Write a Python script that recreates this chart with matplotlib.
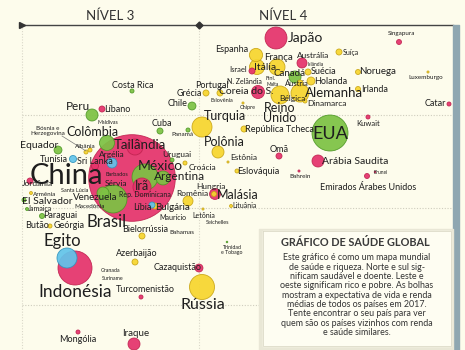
import numpy as np
import matplotlib.pyplot as plt

plt.rcParams['font.family'] = ['Lato', 'DejaVu Sans']

# bubble data (chart units: income index -> right, health index -> down)
paises = ['China', 'EUA', 'Indonésia', 'Brasil', 'México', 'Rússia', 'Japão', 'Egito',
          'Turquia', 'Alemanha', 'Reino Unido', 'França', 'Itália', 'Tailândia', 'Irã',
          'Colômbia', 'Espanha', 'Argentina', 'Coreia do S.', 'Peru', 'Venezuela',
          'Polônia', 'Canadá', 'Arábia Saudita', 'Malásia', 'Iraque', 'Romênia',
          'Austrália', 'Argélia', 'Equador', 'Chile', 'Holanda', 'Cazaquistão',
          'Tunísia', 'Sri Lanka', 'Hungria', 'Suécia', 'Áustria', 'Israel', 'Suíça',
          'Bulgária', 'Bielorrússia', 'Azerbaijão', 'Cuba', 'República Tcheca',
          'Grécia', 'Portugal', 'Líbia', 'Jordânia', 'Omã', 'Paraguai', 'Noruega',
          'Irlanda', 'Singapura', 'Emirados', 'Panamá', 'Uruguai', 'Croácia',
          'Eslováquia', 'El Salvador', 'Geórgia', 'Mongólia', 'Turcomenistão',
          'Catar', 'Kuwait', 'Líbano', 'Costa Rica', 'Jamaica', 'Armênia',
          'Lituânia', 'Estônia', 'Letônia', 'Eslovênia', 'Luxemburgo', 'Bahrein',
          'Brunei', 'Trinidad', 'Dinamarca', 'Bósnia', 'Albânia']
renda = [132, 330, 75, 113, 145, 202, 276, 67,
         202, 300, 280, 277, 257, 135, 142,
         107, 256, 163, 258, 92, 103,
         218, 295, 318, 215, 134, 188,
         302, 112, 58, 192, 311, 199,
         73, 95, 214, 308, 300, 252, 339,
         155, 142, 135, 160, 244,
         206, 220, 152, 30, 279, 42, 358,
         358, 399, 367, 188, 172, 185,
         237, 24, 50, 78, 141,
         449, 368, 102, 132, 27, 31,
         231, 228, 203, 243, 428, 299,
         375, 227, 305, 86, 90]
saude = [178, 133, 268, 199, 177, 287, 38, 258,
         127, 93, 95, 67, 67, 147, 187,
         143, 55, 178, 92, 115, 193,
         152, 77, 161, 194, 344, 201,
         63, 163, 150, 106, 81, 268,
         159, 166, 194, 72, 83, 71, 52,
         206, 236, 262, 131, 129,
         93, 93, 205, 181, 156, 216, 72,
         89, 42, 176, 130, 160, 163,
         171, 200, 226, 332, 297,
         104, 117, 109, 91, 209, 193,
         206, 162, 209, 103, 72, 171,
         172, 242, 101, 152, 150]
populacao = [1200, 207, 185, 125, 108, 100, 77, 64,
             64, 52, 52, 41, 36, 41, 52,
             36, 28, 31, 27, 23, 23,
             23, 23, 23, 19, 23, 16,
             16, 16, 10, 10, 10, 10,
             8, 8, 4, 5.8, 5.8, 5.8, 5.8,
             5.8, 5.8, 5.8, 5.8, 5.8,
             5.8, 5.8, 5.8, 5.8, 5.8, 4, 4,
             4, 4, 4, 2.6, 2.6, 2.6,
             2.6, 2.6, 2.6, 2.6, 2.6,
             2.6, 2.6, 5.8, 2.6, 1.4, 1.4,
             1.4, 0.7, 0.7, 0.7, 0.7, 0.7,
             0.4, 0.4, 2.6, 2.6, 2.6]
regiao = ['as', 'am', 'as', 'am', 'am', 'eu', 'as', 'af',
          'eu', 'eu', 'eu', 'eu', 'eu', 'as', 'as',
          'am', 'eu', 'am', 'as', 'am', 'am',
          'eu', 'am', 'as', 'as', 'as', 'eu',
          'as', 'af', 'am', 'am', 'eu', 'as',
          'af', 'as', 'eu', 'eu', 'eu', 'as', 'eu',
          'eu', 'eu', 'eu', 'am', 'eu',
          'eu', 'eu', 'af', 'as', 'as', 'am', 'eu',
          'eu', 'as', 'as', 'am', 'am', 'eu',
          'eu', 'am', 'eu', 'as', 'as',
          'as', 'as', 'as', 'am', 'am', 'eu',
          'eu', 'eu', 'eu', 'eu', 'eu', 'as',
          'as', 'am', 'eu', 'eu', 'eu']

# country labels: text, x, y, font size
rotulos = [
    ('Japão', 305, 38, 10), ('Espanha', 232, 49, 6.5), ('França', 278, 57, 7),
    ('Austrália', 313, 55, 6), ('Islândia', 316, 64, 3.5), ('Itália', 265, 67, 7.5),
    ('Israel', 238, 70, 5.5), ('Canadá', 289, 73, 7), ('Suécia', 324, 72, 6.5),
    ('Suíça', 351, 52, 5), ('N. Zelândia', 244, 81, 5), ('Finl.', 270, 78, 4),
    ('Malta', 273, 84, 3.5), ('Áustria', 297, 84, 5.5), ('Holanda', 331, 81, 6.5),
    ('Noruega', 378, 72, 7), ('Portugal', 212, 85, 6.5), ('Grécia', 189, 93, 6.5),
    ('Coreia do S.', 246, 92, 7.5), ('Eslovênia', 222, 101, 4), ('Chipre', 248, 108, 4),
    ('Chile', 178, 104, 6.5), ('Reino\nUnido', 280, 113, 9), ('Bélgica', 292, 98, 6),
    ('Alemanha', 334, 93, 9.5), ('Dinamarca', 327, 103, 6), ('Irlanda', 375, 89, 6.5),
    ('Luxemburgo', 426, 77, 4.5), ('Singapura', 401, 34, 4.5), ('Catar', 435, 103, 6.5),
    ('Kuwait', 368, 123, 5.5), ('EUA', 330, 134, 13), ('Arábia Saudita', 355, 161, 7.5),
    ('Brunei', 381, 172, 3.5), ('Emirados Árabes Unidos', 368, 187, 6.5),
    ('Omã', 279, 149, 6.5), ('Bahrein', 300, 177, 4.5), ('Turquia', 225, 116, 9),
    ('Cuba', 162, 123, 6.5), ('Panamá', 182, 135, 4.5), ('República Tcheca', 279, 129, 6.5),
    ('Polônia', 224, 142, 9), ('Estônia', 244, 158, 6), ('Uruguai', 177, 154, 6),
    ('Croácia', 202, 167, 6), ('Eslováquia', 258, 171, 6.5), ('Argentina', 180, 177, 8.5),
    ('México', 160, 166, 10), ('Hungria', 211, 186, 6), ('Malásia', 238, 195, 9),
    ('Romênia', 192, 194, 6), ('Lituânia', 245, 206, 5), ('Bulgária', 172, 207, 7),
    ('Letônia', 204, 215, 5), ('Maurício', 173, 218, 5), ('Seichelles', 218, 223, 4),
    ('Bielorrússia', 145, 229, 6.5), ('Bahamas', 182, 233, 4.5),
    ('Trinidad\ne Tobago', 232, 250, 3.8), ('Cazaquistão', 178, 268, 6.5),
    ('Rússia', 203, 305, 11.5), ('Azerbaijão', 137, 254, 6.5), ('Granada', 111, 271, 3.8),
    ('Suriname', 113, 278, 3.8), ('Turcomenistão', 145, 290, 6.5), ('Iraque', 136, 334, 7),
    ('Mongólia', 78, 340, 6.5), ('Indonésia', 75, 292, 12.5), ('Egito', 62, 241, 12),
    ('Costa Rica', 133, 85, 6.5), ('Peru', 78, 107, 8.5), ('Líbano', 117, 109, 6.5),
    ('Maldivas', 108, 122, 3.8), ('Colômbia', 92, 132, 9), ('Bósnia e\nHerzegovina', 48, 131, 4.5),
    ('Equador', 39, 145, 7.5), ('Albânia', 85, 147, 4.5), ('Tunísia', 54, 159, 6.5),
    ('Sri Lanka', 95, 161, 6.5), ('Argélia', 112, 155, 6), ('Tailândia', 140, 145, 9.5),
    ('China', 66, 176, 21), ('Santa Lúcia', 75, 191, 4), ('Jordânia', 37, 184, 6),
    ('Armênia', 45, 194, 4.5), ('El Salvador', 47, 202, 7.5), ('Jamaica', 40, 208.5, 5),
    ('Paraguai', 60, 216, 6.5), ('Butão', 37, 225, 6.5), ('Geórgia', 69, 226, 6.5),
    ('Venezuela', 95, 198, 7), ('Macedônia', 90, 207, 4.5), ('Sérvia', 116, 183, 6),
    ('Barbados', 117, 175, 4), ('Irã', 142, 186, 9), ('Rep. Dominicana', 145, 195, 5),
    ('Líbia', 142, 208, 6.5), ('Brasil', 107, 222, 12),
]

texto_caixa = ['Este gráfico é como um mapa mundial',
               'de saúde e riqueza. Norte e sul sig-',
               'nificam saudável e doente. Leste e',
               'oeste significam rico e pobre. As bolhas',
               'mostram a expectativa de vida e renda',
               'médias de todos os países em 2017.',
               'Tente encontrar o seu país para ver',
               'quem são os países vizinhos com renda',
               'e saúde similares.']

cores = {'as': ('#e5336c', '#c0224f'), 'eu': ('#f7d62f', '#c9a514'),
         'am': ('#7dc244', '#4e9826'), 'af': ('#62c4ea', '#3194bd')}
fundo = '#fdfcec'

fig = plt.figure(figsize=(4.65, 3.5), dpi=100)
fig.patch.set_facecolor(fundo)
ax = fig.add_axes([0, 0, 1, 1])
ax.set_xlim(0, 465)
ax.set_ylim(350, 0)
ax.set_facecolor(fundo)
ax.axis('off')

# grid and header line
for yy in [115, 208, 305]:
    ax.plot([22, 453], [yy, yy], color='#cfcdbe', lw=0.8, ls=(0, (1, 1.5)), zorder=0)
for xx in [22, 199]:
    ax.plot([xx, xx], [25, 350], color='#dad8c9', lw=0.8, ls=(0, (1, 1.5)), zorder=0)
ax.plot([22, 453], [25, 25], color='#444444', lw=1.0, zorder=1)
ax.plot(22, 25, marker='>', color='#333333', ms=5, zorder=2)
ax.plot(199, 25, marker='D', color='#333333', ms=3.5, zorder=2)
ax.text(110, 16, 'NÍVEL 3', fontsize=9.5, color='#333333', ha='center', va='center')
ax.text(283, 16, 'NÍVEL 4', fontsize=9.5, color='#333333', ha='center', va='center')
ax.fill_between([453, 459], 25, 350, color='#8fa7b1', zorder=1)

# bubbles, largest first
ordem = np.argsort(populacao)[::-1]
x = np.array(renda)[ordem]
y = np.array(saude)[ordem]
pop = np.array(populacao)[ordem]
reg = np.array(regiao)[ordem]
s = 3.24 * pop
ax.scatter(x, y, s=s, c=[cores[r][0] for r in reg], edgecolors=[cores[r][1] for r in reg],
           linewidths=0.6, alpha=0.93, zorder=3)

# leader line for Bosnia
ax.plot([62, 86], [136, 151], color='#777777', lw=0.5, zorder=4)

for txt, tx, ty, fs in rotulos:
    ax.text(tx, ty, txt, fontsize=fs, color='#1e1e1e', ha='center', va='center',
            linespacing=0.9, zorder=5)

# info box
ax.fill_between([259, 453], 229, 350, color='#e9e7d6', zorder=6)
ax.fill_between([263, 451], 231, 346, color='#fefdf2', zorder=7)
ax.plot([263, 451, 451, 263, 263], [231, 231, 346, 346, 231], color='#dcdac8', lw=0.6, zorder=7)
ax.text(355, 243, 'GRÁFICO DE SAÚDE GLOBAL', fontsize=7.8, fontweight='bold',
        color='#3a3a3a', ha='center', va='center', zorder=8)
for i, linha in enumerate(texto_caixa):
    ax.text(357, 258 + i * 9.3, linha, fontsize=6.4, color='#333333',
            ha='center', va='center', zorder=8)

fig.savefig('out.png', dpi=100, facecolor=fundo)
